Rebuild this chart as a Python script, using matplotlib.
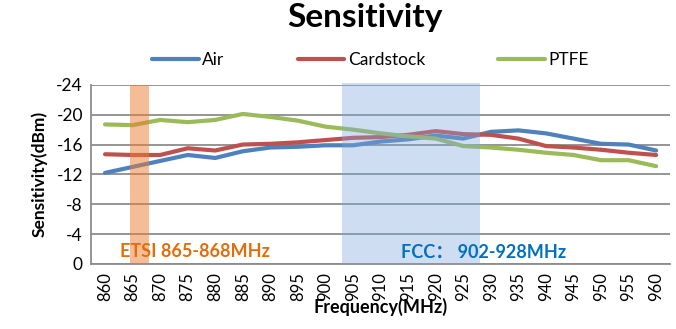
import matplotlib
matplotlib.use("Agg")
import matplotlib.pyplot as plt

# === Data === #
freqs = [860, 865, 870, 875, 880, 885, 890, 895, 900, 905, 910,
         915, 920, 925, 930, 935, 940, 945, 950, 955, 960]
air = [-12.2, -13.0, -13.8, -14.6, -14.2, -15.1, -15.6, -15.7, -15.9, -15.9, -16.4,
       -16.7, -17.2, -16.8, -17.7, -17.9, -17.5, -16.8, -16.1, -16.0, -15.2]
cardstock = [-14.7, -14.6, -14.6, -15.5, -15.2, -16.0, -16.1, -16.3, -16.6, -16.9, -17.0,
             -17.3, -17.8, -17.4, -17.3, -16.8, -15.8, -15.6, -15.3, -14.9, -14.6]
ptfe = [-18.7, -18.6, -19.3, -19.0, -19.3, -20.1, -19.7, -19.2, -18.4, -18.0, -17.5,
        -17.1, -16.8, -15.8, -15.6, -15.3, -14.9, -14.6, -13.9, -13.9, -13.1]
series_names = ["Air", "Cardstock", "PTFE"]
series_colors = ["#4F81BD", "#C0504D", "#9BBB59"]
y_ticks = [0, -4, -8, -12, -16, -20, -24]
etsi_band = (865, 868)
fcc_band = (902, 928)

plt.rcParams['font.family'] = ['Lato', 'DejaVu Sans', 'Noto Sans CJK SC']


def to_index(f):
    # category axis: one slot per 5 MHz step
    return (f - freqs[0]) / 5.0


fig = plt.figure(figsize=(6.76, 3.29), dpi=100)
ax = fig.add_axes([0.135, 0.198, 0.856, 0.544])

xs = list(range(len(freqs)))
for vals, name, col in zip([air, cardstock, ptfe], series_names, series_colors):
    ax.plot(xs, vals, color=col, lw=3, label=name, solid_capstyle='round', zorder=3)

# frequency bands drawn over the lines, semi transparent
ax.axvspan(to_index(etsi_band[0]) - 0.1, to_index(etsi_band[1]), ymin=0, ymax=1,
           color='#ED7D31', alpha=0.5, lw=0, zorder=4)
ax.axvspan(to_index(fcc_band[0]) + 0.2, to_index(fcc_band[1]), ymin=0, ymax=1.01,
           color='#7FA7DB', alpha=0.38, lw=0, zorder=4, clip_on=False)

ax.text(0.55, -1.6, "ETSI 865-868MHz", color='#E46C0A', fontsize=13,
        fontweight='bold', va='center', ha='left', zorder=5)
ax.text(10.75, -1.6, "FCC\uff1a 902-928MHz", color='#0070C0', fontsize=13,
        fontweight='bold', va='center', ha='left', zorder=5,
        family=['Lato', 'Noto Sans CJK SC', 'DejaVu Sans'])

ax.set_xlim(-0.5, len(freqs) - 0.5)
ax.set_ylim(0, -24)
ax.set_yticks(y_ticks)
ax.set_yticklabels([str(v) for v in y_ticks], fontsize=12.5)
ax.set_xticks(xs)
ax.set_xticklabels([str(f) for f in freqs], rotation=90, fontsize=12)
ax.tick_params(length=0, pad=6)
ax.yaxis.grid(True, color='#8C8C8C', lw=1.3)
ax.set_axisbelow(True)

for s in ['top', 'right']:
    ax.spines[s].set_visible(False)
for s in ['left', 'bottom']:
    ax.spines[s].set_color('#8C8C8C')
    ax.spines[s].set_linewidth(1.3)

ax.set_xlabel("Frequency(MHz)", fontsize=13, fontweight='bold', labelpad=-2)
ax.set_ylabel("Sensitivity(dBm)", fontsize=12.5, fontweight='bold', labelpad=6)

fig.suptitle("Sensitivity", fontsize=24, fontweight='bold', x=0.54, y=0.99)
fig.legend(loc='center', ncol=3, frameon=False, bbox_to_anchor=(0.548, 0.818),
           fontsize=12.5, handlelength=2.7, handletextpad=0.2, columnspacing=4.2)

fig.savefig("out.png", dpi=100)
